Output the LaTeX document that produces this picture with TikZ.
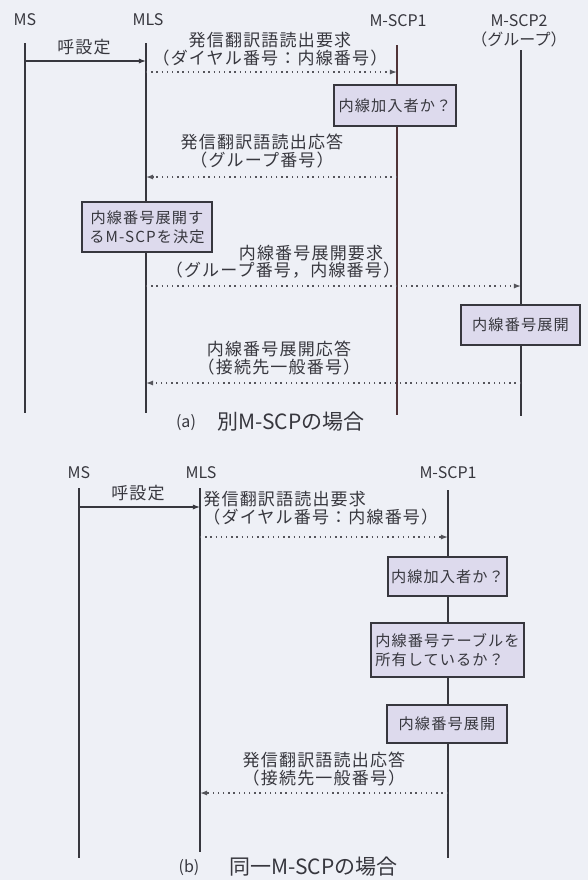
\documentclass[tikz,border=0pt]{standalone}
\usepackage{fontspec}
\setmainfont{Noto Sans CJK JP}
\newfontfamily\spacedfont[LetterSpace=7]{Noto Sans CJK JP}
\usetikzlibrary{arrows.meta}
\definecolor{bg}{RGB}{238,240,246}
\definecolor{boxfill}{RGB}{221,218,237}
\definecolor{ink}{RGB}{55,55,62}
\definecolor{inkred}{RGB}{80,52,56}
\begin{document}
\begin{tikzpicture}[x=0.5pt,y=-0.5pt,
  life/.style={draw=ink, line width=0.55pt},
  msg/.style={draw=ink, line width=0.55pt, -{Latex[length=3.6pt,width=2.6pt]}},
  dmsg/.style={draw=ink!85, line width=0.65pt, dash pattern=on 0.7pt off 1.9pt, -{Latex[length=3.6pt,width=2.6pt]}},
  hd/.style={text=ink, font=\fontsize{8}{9.5}\selectfont, inner sep=0pt, align=center},
  lbl/.style={text=ink, font=\spacedfont\fontsize{8.5}{9}\selectfont, inner sep=0pt, align=center},
  proc/.style={draw=ink, line width=0.7pt, fill=boxfill, text=ink, font=\spacedfont\fontsize{7.6}{9.5}\selectfont, align=center, inner sep=1pt},
  capsm/.style={text=ink, font=\fontsize{8}{9}\selectfont, inner sep=0pt},
  capbig/.style={text=ink, font=\fontsize{10.5}{12}\selectfont, inner sep=0pt, anchor=west}
]
\fill[bg] (0,0) rectangle (588,880);
\useasboundingbox (0,0) rectangle (588,880);

% ---------------- (a) ----------------
\node[hd] (aMS) at (25,20) {MS};
\node[hd] (aMLS) at (148,20) {MLS};
\node[hd] (aS1) at (398,21) {M-SCP1};
\node[hd, anchor=north] (aS2) at (519,14) {M-SCP2\\（グループ）};

\coordinate (aMSt) at (25,43);   \coordinate (aMSb) at (25,413);
\coordinate (aMLSt) at (146,43); \coordinate (aMLSb) at (146,413);
\coordinate (aS1t) at (397,45);  \coordinate (aS1b) at (397,415);
\coordinate (aS2t) at (521,50);  \coordinate (aS2b) at (521,416);

\draw[life] (aMSt) -- (aMSb);
\draw[life] (aMLSt) -- (aMLSb);
\draw[life, draw=inkred] (aS1t) -- (aS1b);
\draw[life] (aS2t) -- (aS2b);

% messages
\coordinate (a1s) at (25,61);  \coordinate (a1e) at (146,61);
\coordinate (a2s) at (146,72); \coordinate (a2e) at (397,72);
\coordinate (a3s) at (397,177); \coordinate (a3e) at (146,177);
\coordinate (a4s) at (146,286); \coordinate (a4e) at (521,286);
\coordinate (a5s) at (521,383); \coordinate (a5e) at (146,383);

\draw[msg] (a1s) -- (a1e);
\draw[dmsg] (a2s) -- (a2e);
\draw[dmsg] (a3s) -- (a3e);
\draw[dmsg] (a4s) -- (a4e);
\draw[dmsg] (a5s) -- (a5e);

\node[lbl] (la1) at (84,47) {呼設定};
\node[lbl] (la2) at (270,49) {発信翻訳語読出要求\\（ダイヤル番号：内線番号）};
\node[lbl] (la3) at (262,151) {発信翻訳語読出応答\\（グループ番号）};
\node[lbl] (la4a) at (311,253) {内線番号展開要求};
\node[lbl] (la4b) at (283,270) {（グループ番号，内線番号）};
\node[lbl] (la5) at (279,358) {内線番号展開応答\\（接続先一般番号）};

\node[proc, minimum width=61pt, minimum height=20.5pt] (ab1) at (395,105.5) {内線加入者か？};
\node[proc, minimum width=65pt, minimum height=25pt] (ab2) at (147,227) {内線番号展開す\\るM-SCPを決定};
\node[proc, minimum width=59.5pt, minimum height=20pt] (ab3) at (520.5,325) {内線番号展開};

\node[capsm] (capa1) at (186,423) {(a)};
\node[capbig] (capa2) at (217,422) {別M-SCPの場合};

% ---------------- (b) ----------------
\node[hd] (bMS) at (79,473) {MS};
\node[hd] (bMLS) at (201,473) {MLS};
\node[hd] (bS1) at (448,473) {M-SCP1};

\coordinate (bMSt) at (79,488);   \coordinate (bMSb) at (79,858);
\coordinate (bMLSt) at (200,488); \coordinate (bMLSb) at (200,852);
\coordinate (bS1t) at (448,490);  \coordinate (bS1b) at (448,858);

\draw[life] (bMSt) -- (bMSb);
\draw[life] (bMLSt) -- (bMLSb);
\draw[life] (bS1t) -- (bS1b);

\coordinate (b1s) at (79,507);  \coordinate (b1e) at (200,507);
\coordinate (b2s) at (200,537); \coordinate (b2e) at (448,537);
\coordinate (b3s) at (448,793); \coordinate (b3e) at (200,793);

\draw[msg] (b1s) -- (b1e);
\draw[dmsg] (b2s) -- (b2e);
\draw[dmsg] (b3s) -- (b3e);

\node[lbl] (lb1) at (138,493) {呼設定};
\node[lbl, anchor=west, align=left] (lb2) at (203,508) {発信翻訳語読出要求\\（ダイヤル番号：内線番号）};
\node[lbl] (lb3) at (324,769) {発信翻訳語読出応答\\（接続先一般番号）};

\node[proc, minimum width=59.5pt, minimum height=19.5pt] (bb1) at (447.5,576.5) {内線加入者か？};
\node[proc, minimum width=76.5pt, minimum height=27pt, align=left] (bb2) at (447.5,650) {内線番号テーブルを\\所有しているか？};
\node[proc, minimum width=60pt, minimum height=19pt] (bb3) at (447,724) {内線番号展開};

\node[capsm] (capb1) at (189,868) {(b)};
\node[capbig] (capb2) at (229,867) {同一M-SCPの場合};
\end{tikzpicture}
\end{document}
